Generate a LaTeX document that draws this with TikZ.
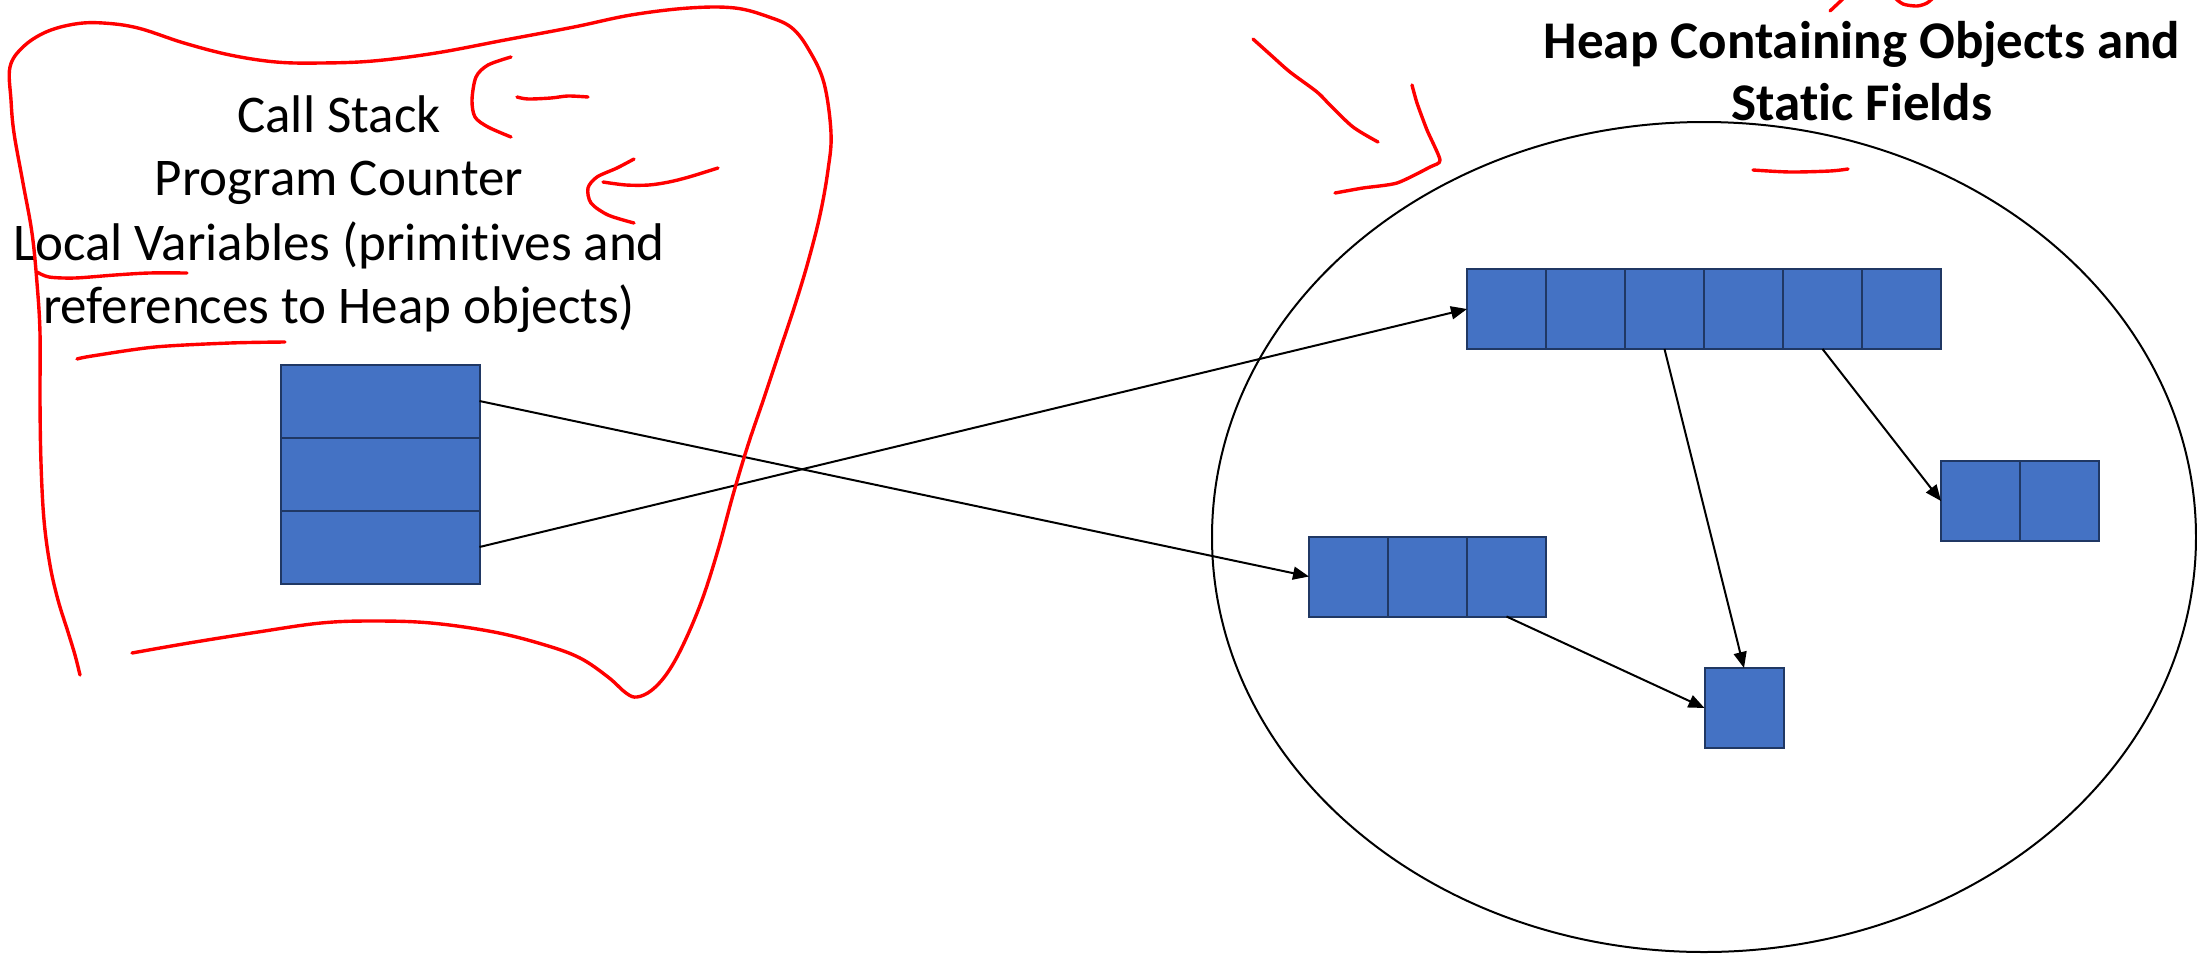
\documentclass[tikz,border=0pt]{standalone}
\usepackage{fontspec}
\setmainfont{Carlito}[Ligatures=NoCommon]
\usepackage{xcolor}
\usetikzlibrary{arrows.meta}
\definecolor{cellblue}{HTML}{4472C4}
\definecolor{celledge}{HTML}{203864}

\begin{document}
\begin{tikzpicture}[x=0.5pt, y=-0.5pt,
  cell/.style={draw=celledge, fill=cellblue, line width=1pt, inner sep=0pt, outer sep=0pt,
               minimum width=39.5pt, minimum height=40pt},
  stackcell/.style={cell, minimum width=99.5pt, minimum height=36.5pt},
  ref/.style={-{Triangle[length=8pt,width=6.5pt]}, line width=1pt},
  pen/.style={red, line width=1.7pt, line cap=round, line join=round},
  txt/.style={font=\fontsize{26.5pt}{32pt}\selectfont, inner sep=0pt, anchor=base},
  headtxt/.style={txt, font=\fontsize{26.5pt}{32pt}\selectfont\bfseries}]
\useasboundingbox (0,0) rectangle (2197,954);
\clip (0,0) rectangle (2197,954);

% stack side
\foreach \txt/\yy [count=\i] in {{Call Stack}/132, {Program Counter}/195,
    {Local Variables (primitives and}/260, {references to Heap objects)}/323}
  \node[txt] (line\i) at (339,\yy) {\txt};
\foreach \i in {1,2,3}
  \node[stackcell] (fr\i) at (380,{401+73*(\i-1)}) {};

% heap side
\node[headtxt] (head1) at (1862,58) {Heap Containing Objects and};
\node[headtxt] (head2) at (1862,120) {Static Fields};
\draw[line width=1pt] (1704,537) ellipse [x radius=246pt, y radius=207.5pt];
\foreach \i in {1,...,6}
  \node[cell] (top\i) at ({1506.5+79*(\i-1)},309) {};
\foreach \i in {1,2,3}
  \node[cell] (mid\i) at ({1348.5+79*(\i-1)},576.5) {};
\foreach \i in {1,2}
  \node[cell] (pair\i) at ({1980.5+79*(\i-1)},501) {};
\node[cell] (single) at (1744,708) {};

% references
\draw[ref] (fr1.east) -- (mid1.west);
\draw[ref] (fr3.east) -- (top1.west);
\draw[ref] (top3.south) -- (single.north);
\draw[ref] (top5.south) -- (pair1.west);
\draw[ref] (mid3.south) -- (single.west);

% red pen marks
\draw[pen] plot[smooth, tension=0.6] coordinates {(80,675) (75,655) (68,632) (58,600) (50,565)
  (44,520) (41,463) (40,400) (40,333) (37,283) (32,233) (23,183) (14,133) (11,100) (10,67)
  (23,47) (46,32) (75,24) (103,23) (138,28) (184,43) (230,55) (276,62) (321,63) (373,61)
  (436,53) (505,40) (574,27) (631,15) (689,8) (735,8) (769,17) (792,28) (809,50) (824,83)
  (831,133) (828,170) (820,215) (808,262) (795,305) (780,350) (764,398) (748,445) (733,495)
  (718,550) (702,600) (684,643) (668,672) (652,690) (637,697) (626,693) (608,677) (580,658)
  (545,645) (494,632) (431,623) (373,621) (321,623) (258,632) (189,643) (132,653)};
\draw[pen] plot[smooth] coordinates {(511,57) (488,65) (476,77) (472,100) (475,117) (488,127) (511,137)};
\draw[pen] plot[smooth] coordinates {(517,97) (528,99) (551,98) (568,96) (588,97)};
\draw[pen] plot[smooth] coordinates {(634,159) (617,168) (597,177) (588,188) (591,203) (608,215) (634,223)};
\draw[pen] plot[smooth] coordinates {(603,182) (626,185) (649,185) (669,182) (689,177) (718,168)};
\draw[pen] plot[smooth] coordinates {(37,272) (49,277) (75,278) (115,275) (149,273) (187,273)};
\draw[pen] plot[smooth] coordinates {(77,359) (92,356) (155,347) (230,343) (285,342)};
\draw[pen] plot[smooth] coordinates {(1253,39) (1273,57) (1290,72) (1317,92) (1330,105) (1353,127) (1378,142)};
\draw[pen] plot[smooth, tension=0.4] coordinates {(1412,85) (1417,103) (1427,130) (1440,160)
  (1430,167) (1397,183) (1363,188) (1335,193)};
\draw[pen] plot[smooth] coordinates {(1753,170) (1790,172) (1830,171) (1848,169)};
\draw[pen] (1830,11) -- (1846,-4);
\draw[pen] plot[smooth] coordinates {(1894,-3) (1903,4) (1917,6) (1927,3) (1934,-3)};
\end{tikzpicture}
\end{document}
